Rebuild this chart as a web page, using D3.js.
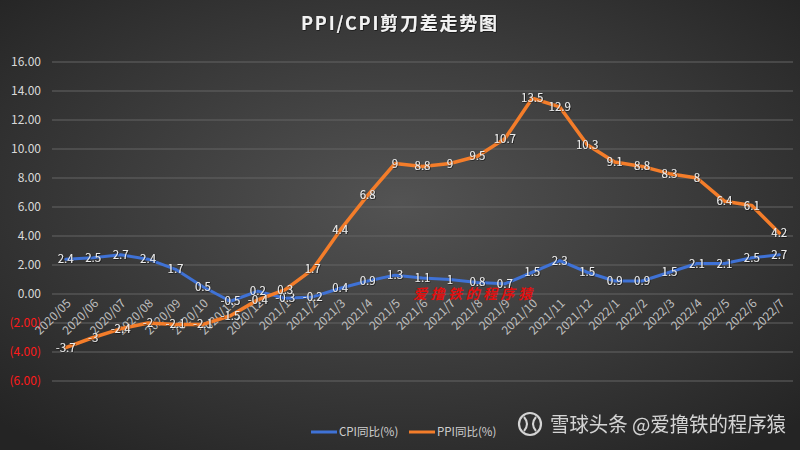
<!DOCTYPE html>
<html>
<head>
<meta charset="utf-8">
<script src="https://cdn.jsdelivr.net/npm/d3@7/dist/d3.min.js"></script>
<style>
  html, body { margin: 0; padding: 0; background: #2a2a2a; }
  svg { display: block; }
  text { font-family: "Noto Sans CJK SC", "Noto Sans", sans-serif; }
</style>
</head>
<body>
<div id="chart"></div>
<script>
const categories = ["2020/05","2020/06","2020/07","2020/08","2020/09","2020/10","2020/11","2020/12",
  "2021/1","2021/2","2021/3","2021/4","2021/5","2021/6","2021/7","2021/8","2021/9","2021/10","2021/11","2021/12",
  "2022/1","2022/2","2022/3","2022/4","2022/5","2022/6","2022/7"];
const cpiValues = [2.4,2.5,2.7,2.4,1.7,0.5,-0.5,0.2,
  -0.3,-0.2,0.4,0.9,1.3,1.1,1,0.8,0.7,1.5,2.3,1.5,
  0.9,0.9,1.5,2.1,2.1,2.5,2.7];
const ppiValues = [-3.7,-3,-2.4,-2,-2.1,-2.1,-1.5,-0.4,
  0.3,1.7,4.4,6.8,9,8.8,9,9.5,10.7,13.5,12.9,10.3,
  9.1,8.8,8.3,8,6.4,6.1,4.2];
const yTicks = [-6,-4,-2,0,2,4,6,8,10,12,14,16];
const seriesNames = ["CPI同比(%)", "PPI同比(%)"];
const seriesColors = ["#3f72d6", "#f47d2a"];
const titleText = "PPI/CPI剪刀差走势图";

const W = 800, H = 450;
const svg = d3.select("#chart").append("svg").attr("width", W).attr("height", H);
const defs = svg.append("defs");
const rg = defs.append("radialGradient").attr("id","bg")
  .attr("cx","50%").attr("cy","45%").attr("r","70%");
rg.append("stop").attr("offset","0%").attr("stop-color","#535353");
rg.append("stop").attr("offset","100%").attr("stop-color","#242424");
svg.append("rect").attr("width",W).attr("height",H).attr("fill","url(#bg)");

const sh = defs.append("filter").attr("id","ts").attr("x","-20%").attr("y","-20%").attr("width","140%").attr("height","140%");
sh.append("feDropShadow").attr("dx",0.6).attr("dy",0.6).attr("stdDeviation",0.6).attr("flood-color","#000").attr("flood-opacity",0.8);

const x = d3.scaleBand().domain(categories).range([52, 793]);
const y = d3.scaleLinear().domain([-6, 16]).range([381, 62]);
const cx = c => x(c) + x.bandwidth()/2;

// grid
svg.append("g").selectAll("line").data(yTicks).join("line")
  .attr("x1", 52).attr("x2", 793)
  .attr("y1", d => y(d)).attr("y2", d => y(d))
  .attr("stroke", "#646464").attr("stroke-width", 1);

// y axis labels
const fmt = d3.format(".2f");
svg.append("g").selectAll("text").data(yTicks).join("text")
  .attr("x", 41).attr("y", d => y(d)).attr("dy", "0.35em")
  .attr("text-anchor", "end").attr("font-size", 12)
  .attr("fill", d => d < 0 ? "#ff1a1a" : "#d9d9d9")
  .text(d => d < 0 ? "(" + fmt(-d) + ")" : fmt(d));

// x axis labels
svg.append("g").selectAll("text").data(categories).join("text")
  .attr("transform", d => `translate(${cx(d)+3},${y(0)+7}) rotate(-45)`)
  .attr("text-anchor", "end").attr("dy", "0.35em")
  .attr("font-size", 12).attr("fill", "#bfbfbf")
  .text(d => d);

// red watermark
svg.append("text").attr("x", 413).attr("y", 299)
  .attr("font-size", 14).attr("fill", "#e01010").attr("letter-spacing", 3.5)
  .attr("font-weight", "bold").attr("font-style", "italic")
  .text("爱撸铁的程序猿");

// lines
const series = [cpiValues, ppiValues];
const line = d3.line().x((d,i) => cx(categories[i])).y(d => y(d));
series.forEach((vals, si) => {
  svg.append("path").datum(vals).attr("d", line)
    .attr("fill", "none").attr("stroke", seriesColors[si])
    .attr("stroke-width", si === 0 ? 3 : 3.5)
    .attr("stroke-linejoin", "round").attr("stroke-linecap", "round");
});

// data labels
series.forEach((vals, si) => {
  svg.append("g").selectAll("text").data(vals).join("text")
    .attr("x", (d,i) => cx(categories[i])).attr("y", d => y(d)).attr("dy", "0.35em")
    .attr("text-anchor", "middle").attr("font-size", 11.5)
    .attr("fill", "#ececec").attr("filter", "url(#ts)")
    .text(d => String(d));
});

// title
svg.append("text").attr("x", 400).attr("y", 30).attr("text-anchor", "middle")
  .attr("font-size", 18).attr("font-weight", "bold").attr("fill", "#f2f2f2")
  .attr("letter-spacing", 1.8).attr("filter", "url(#ts)")
  .text(titleText);

// legend
const lg = svg.append("g");
const legendX = [311, 409];
seriesNames.forEach((n, i) => {
  lg.append("line").attr("x1", legendX[i]).attr("x2", legendX[i] + 26)
    .attr("y1", 432).attr("y2", 432).attr("stroke", seriesColors[i]).attr("stroke-width", 3);
  lg.append("text").attr("x", legendX[i] + 28).attr("y", 432).attr("dy", "0.35em")
    .attr("font-size", 11.5).attr("fill", "#cfcfcf").text(n);
});

// platform watermark
const wm = svg.append("g").attr("opacity", 0.9);
wm.append("circle").attr("cx", 530).attr("cy", 424).attr("r", 11)
  .attr("fill", "none").attr("stroke", "#e6e6e6").attr("stroke-width", 2.2);
wm.append("path").attr("d", "M524,417 Q530,424 524,431 M536,417 Q530,424 536,431")
  .attr("fill", "none").attr("stroke", "#e6e6e6").attr("stroke-width", 2);
wm.append("text").attr("x", 550).attr("y", 432).attr("font-size", 20)
  .attr("fill", "#e6e6e6").attr("textLength", 236).attr("lengthAdjust", "spacingAndGlyphs")
  .text("雪球头条 @爱撸铁的程序猿");
</script>
</body>
</html>
